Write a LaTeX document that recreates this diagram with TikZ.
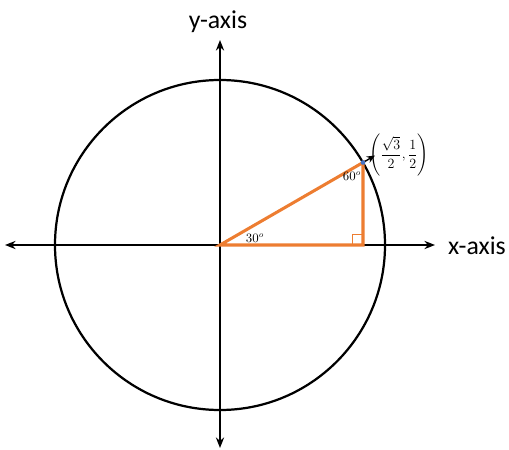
\documentclass[tikz,border=0pt]{standalone}
\usepackage{fontspec}
\setmainfont{Carlito}
\usepackage{amsmath}
\usetikzlibrary{arrows.meta}
\definecolor{trigorange}{HTML}{ED7D31}
\definecolor{trigblue}{HTML}{4472C4}
\tikzset{
  axisline/.style={line width=1.6pt,-{Stealth[length=9pt,width=7pt]}},
  triside/.style={trigorange,line width=2.6pt,line cap=round},
  anglelabel/.style={font=\fontsize{10.5}{12}\selectfont,inner sep=0pt}
}

\begin{document}
\begin{tikzpicture}[x=0.03cm,y=0.03cm]
  \useasboundingbox (-220,-204) rectangle (289,245);
  \coordinate (O) at (0,0);
  \coordinate (xl) at (-215,0);
  \coordinate (xr) at (215,0);
  \coordinate (yb) at (0,-203);
  \coordinate (yt) at (0,205);
  \coordinate (P) at (143,82.5);
  \coordinate (F) at (143,0);
  \coordinate (Q) at (155,89.5);
  % unit circle and axes
  \draw[line width=1.9pt] (O) circle[radius=4.95cm];
  \draw[axisline] (O) -- (xr);
  \draw[axisline] (O) -- (xl);
  \draw[axisline] (O) -- (yt);
  \draw[axisline] (O) -- (yb);
  \node[font=\fontsize{22}{26}\selectfont,anchor=west,inner sep=0pt] (xlab) at (228,-1) {x-axis};
  \node[font=\fontsize{22}{26}\selectfont,inner sep=0pt] (ylab) at (-2,223) {y-axis};
  % triangle
  \draw[trigorange,line width=0.7pt] (132,0) -- (132,11) -- (143,11);
  \draw[triside] (O) -- (F) -- (P) -- cycle;
  \draw[line width=1.2pt,-{Stealth[length=7pt,width=6pt]}] (P) -- (Q);
  \fill[trigblue] (P) circle[radius=0.07cm];
  \node[anglelabel] (a30) at (35,7) {$30^o$};
  \node[anglelabel] (a60) at (132,69) {$60^o$};
  \node[font=\fontsize{11.5}{14}\selectfont,inner sep=0pt] (plab) at (179,90)
    {$\left(\dfrac{\sqrt{3}}{2},\dfrac{1}{2}\right)$};
\end{tikzpicture}
\end{document}
